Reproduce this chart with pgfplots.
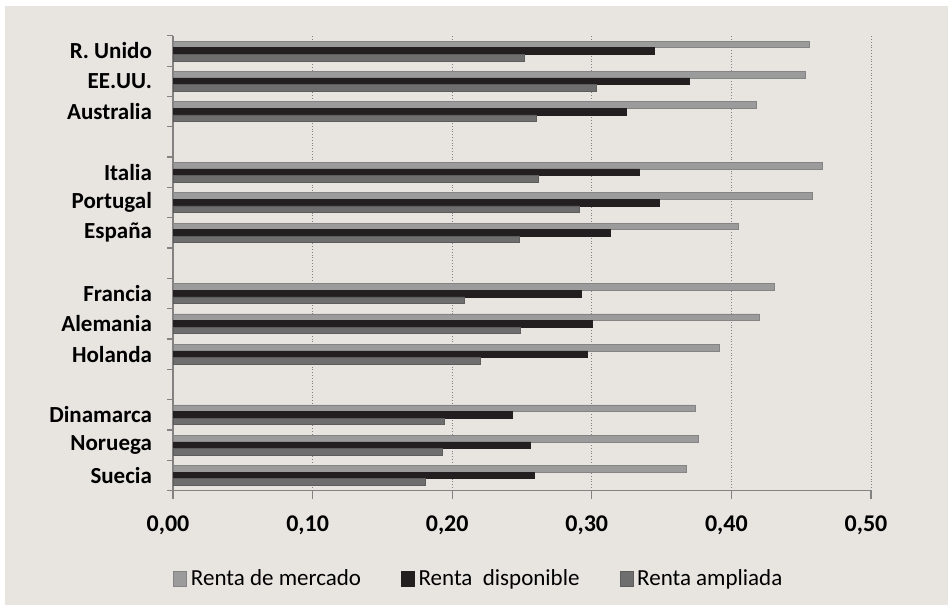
\documentclass[border=0pt]{standalone}
\usepackage{pgfplots}
\pgfplotsset{compat=1.18}
\usepackage{fontspec}
\setmainfont{Carlito}

\definecolor{bgc}{RGB}{232,229,225}
\definecolor{mercado}{RGB}{155,155,155}
\definecolor{disponible}{RGB}{35,31,32}
\definecolor{ampliada}{RGB}{110,110,110}
\definecolor{axisgray}{RGB}{130,130,130}

\begin{document}
\begin{tikzpicture}
% page and chart background
\path[use as bounding box] (0,0) rectangle (474pt,302.5pt);
\fill[white] (0,0) rectangle (474pt,302.5pt);
\fill[bgc] (2.5pt,0) rectangle (474pt,299.5pt);

\begin{axis}[
  at={(86.5pt,57.2pt)}, anchor=south west,
  scale only axis, width=349pt, height=227.4pt,
  xbar, bar width=0.217,
  xmin=0, xmax=0.5, ymin=-0.5, ymax=14.5,
  xtick={0,0.1,0.2,0.3,0.4,0.5},
  /pgf/number format/.cd, fixed, fixed zerofill, precision=2, use comma, assume math mode=true,
  /pgfplots/.cd,
  ytick={0,1,2,4,5,6,8,9,10,12,13,14},
  yticklabels={Suecia,Noruega,Dinamarca,Holanda,Alemania,Francia,España,Portugal,Italia,Australia,EE.UU.,R. Unido},
  minor ytick={-0.5,0.5,...,14.5},
  axis x line*=bottom, axis y line*=left,
  axis line style={axisgray, line width=0.6pt},
  tick align=outside,
  major tick length=4pt, minor tick length=3pt,
  major y tick style={draw=none},
  minor y tick style={axisgray, line width=0.6pt},
  major x tick style={axisgray, line width=0.6pt},
  xmajorgrids,
  major x grid style={gray, densely dotted, line width=0.5pt},
  x tick label style={font=\bfseries\fontsize{12}{14}\selectfont, yshift=-5pt, xshift=-2.5pt},
  y tick label style={font=\bfseries\fontsize{11.5}{13}\selectfont, xshift=-3pt},
  legend columns=3,
  legend style={at={(rel axis cs:0.0,-0.1935)}, anchor=west, draw=none, fill=none,
    font=\fontsize{11.5}{13}\selectfont, inner sep=0pt,
    /tikz/every even column/.append style={column sep=18pt}},
  legend image code/.code={\fill[#1] (0pt,-3.9pt) rectangle (6.5pt,3.9pt);},
]
% Renta de mercado
\addplot[fill=mercado, draw=mercado!85!black, line width=0.3pt, bar shift=0.217] coordinates {
  (0.368,0) (0.376,1) (0.374,2)
  (0.391,4) (0.420,5) (0.431,6)
  (0.405,8) (0.458,9) (0.465,10)
  (0.418,12) (0.453,13) (0.456,14)
};
% Renta disponible
\addplot[fill=disponible, draw=disponible, line width=0.3pt, bar shift=0] coordinates {
  (0.259,0) (0.256,1) (0.243,2)
  (0.297,4) (0.300,5) (0.2925,6)
  (0.313,8) (0.348,9) (0.334,10)
  (0.3245,12) (0.370,13) (0.345,14)
};
% Renta ampliada
\addplot[fill=ampliada, draw=ampliada!85!black, line width=0.3pt, bar shift=-0.217] coordinates {
  (0.181,0) (0.193,1) (0.194,2)
  (0.220,4) (0.249,5) (0.209,6)
  (0.248,8) (0.291,9) (0.262,10)
  (0.260,12) (0.303,13) (0.252,14)
};
\legend{Renta de mercado,Renta\ \ disponible,Renta ampliada}
\end{axis}
\end{tikzpicture}
\end{document}
